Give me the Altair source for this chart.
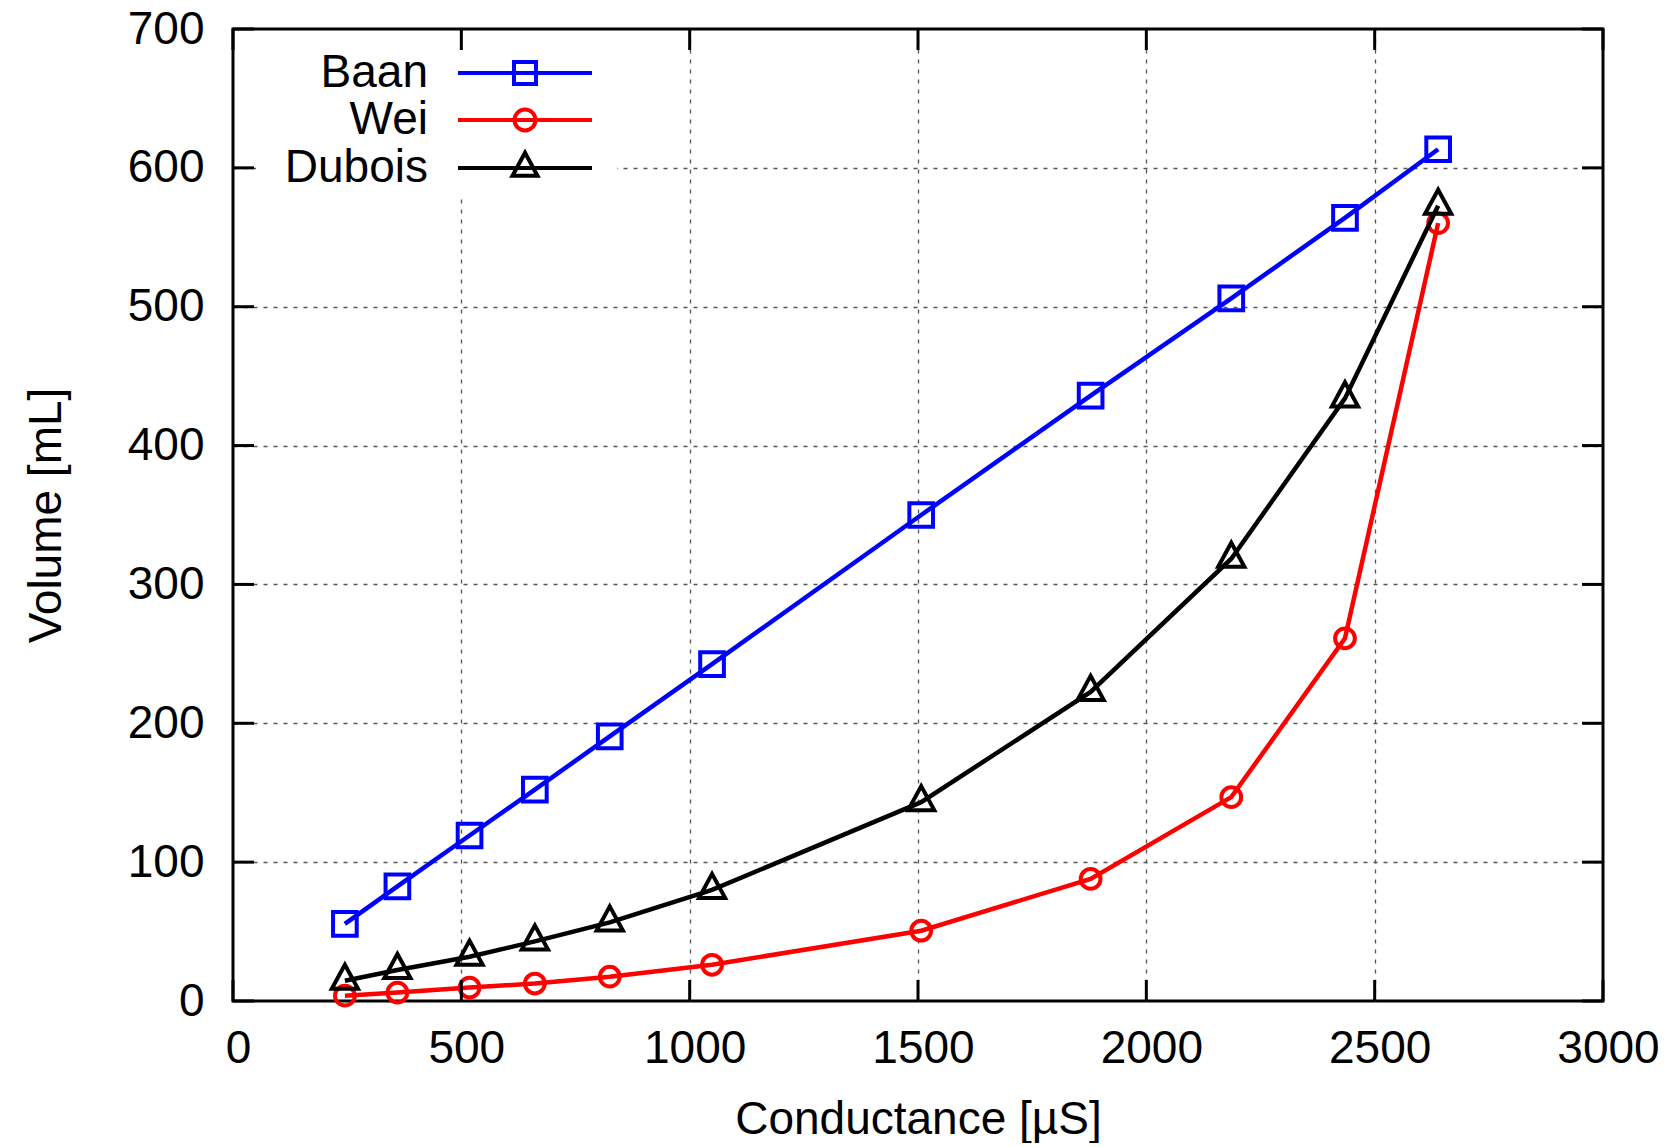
import altair as alt
import pandas as pd

# ---- data ----
conductance = [245, 360, 518, 661, 825, 1049, 1507, 1878, 2186, 2435, 2639]
baan = [55.5, 82.6, 119.2, 152.2, 190.6, 242.6, 350.0, 436.0, 506.0, 564.0, 613.4]
wei = [3.8, 6.1, 9.7, 12.6, 17.5, 26.1, 50.6, 87.9, 146.8, 261.2, 560.2]
dubois = [14.6, 22.3, 31.9, 42.9, 56.6, 80.0, 143.2, 222.6, 318.5, 434.0, 572.7]

series_names = ["Baan", "Wei", "Dubois"]
series_colors = ["#0000ff", "#ff0000", "#000000"]
x_ticks = [0, 500, 1000, 1500, 2000, 2500, 3000]
y_ticks = [0, 100, 200, 300, 400, 500, 600, 700]

# ---- layout / style ----
W, H = 1370, 972
FONT = "Liberation Sans"
FS = 46
TICK = 21

rows = []
for name, vals in zip(series_names, [baan, wei, dubois]):
    for c, v in zip(conductance, vals):
        rows.append({"series": name, "conductance": c, "volume": v})
df = pd.DataFrame(rows)
xt = pd.DataFrame({"conductance": x_ticks})
yt = pd.DataFrame({"volume": y_ticks})

x_scale = alt.Scale(domain=[0, 3000], nice=False, zero=False)
y_scale = alt.Scale(domain=[0, 700], nice=False, zero=False)

x_axis = alt.Axis(
    values=x_ticks, format="d", title="Conductance [µS]",
    domain=False, ticks=False, tickSize=0,
    labelPadding=25, labelFontSize=FS, labelFont=FONT, labelColor="black",
    labelFlush=False, labelOverlap=False, labelOffset=5,
    grid=True, gridColor="#555555", gridDash=[4, 6], gridWidth=1.3,
    gridOpacity={"condition": {"test": "datum.value <= 0 || datum.value >= 3000", "value": 0}, "value": 1},
    titleFont=FONT, titleFontSize=FS, titleFontWeight="normal", titleColor="black",
    titlePadding=26,
)
y_axis = alt.Axis(
    values=y_ticks, format="d", title="Volume [mL]",
    domain=False, ticks=False, tickSize=0,
    labelPadding=29, labelFontSize=FS, labelFont=FONT, labelColor="black",
    labelFlush=False, labelOverlap=False,
    grid=True, gridColor="#555555", gridDash=[4, 6], gridWidth=1.3,
    gridOpacity={"condition": {"test": "datum.value <= 0 || datum.value >= 700", "value": 0}, "value": 1},
    titleFont=FONT, titleFontSize=FS, titleFontWeight="normal", titleColor="black",
    titlePadding=57,
)

X = alt.X("conductance:Q", scale=x_scale, axis=x_axis)
Y = alt.Y("volume:Q", scale=y_scale, axis=y_axis)

marker_shapes = {
    "Baan": ("square", 560),
    "Wei": ("circle", 390),
    "Dubois": ("M0,-1.53L1.25,0.77L-1.25,0.77Z", 440),
}

layers = []
for name, col in zip(series_names, series_colors):
    base = alt.Chart(df).transform_filter(alt.datum.series == name)
    layers.append(base.mark_line(color=col, strokeWidth=4.5).encode(x=X, y=Y))
    shp, sz = marker_shapes[name]
    layers.append(
        base.mark_point(shape=shp, size=sz, filled=False, color=col, strokeWidth=4, opacity=1)
        .encode(x=X, y=Y)
    )

# inward tick marks on all four sides
tick_style = dict(color="black", strokeWidth=3)
layers.append(alt.Chart(xt).mark_rule(**tick_style).encode(x=X, y=alt.value(H), y2=alt.value(H - TICK)))
layers.append(alt.Chart(xt).mark_rule(**tick_style).encode(x=X, y=alt.value(0), y2=alt.value(TICK)))
layers.append(alt.Chart(yt).mark_rule(**tick_style).encode(y=Y, x=alt.value(0), x2=alt.value(TICK)))
layers.append(alt.Chart(yt).mark_rule(**tick_style).encode(y=Y, x=alt.value(W), x2=alt.value(W - TICK)))

# legend: line + marker symbols, labels on the left
ext = "M8.4,0"
line_seg = "M-6.7,0H6.7"
legend_paths = [
    ext + line_seg + "M-1.1,-1.1H1.1V1.1H-1.1Z",
    ext + line_seg + "M-1.05,0A1.05,1.05 0 1,0 1.05,0A1.05,1.05 0 1,0 -1.05,0Z",
    ext + "M0,2.2" + line_seg + "M0,-1.53L1.25,0.77L-1.25,0.77Z",
]
leg = alt.Legend(
    title=None, orient="none", legendX=23, legendY=21, direction="vertical",
    fillColor="white", padding=0,
    symbolOffset=246,
    labelAlign="right", labelOffset={"expr": "-120"}, labelFont=FONT, labelFontSize=FS,
    labelColor="black", labelLimit=400,
    symbolSize=400, symbolStrokeWidth=4, symbolOpacity=1,
    rowPadding=1,
)
legend_layer = (
    alt.Chart(df)
    .transform_filter("false")
    .mark_point(filled=False)
    .encode(
        x=X, y=Y,
        stroke=alt.Stroke("series:N", scale=alt.Scale(domain=series_names, range=series_colors), legend=leg),
        shape=alt.Shape("series:N", scale=alt.Scale(domain=series_names, range=legend_paths), legend=leg),
    )
)
layers.append(legend_layer)

chart = (
    alt.layer(*layers)
    .properties(
        width=W, height=H,
        autosize=alt.AutoSizeParams(type="none"),
        padding={"left": 225, "top": 21, "right": 57, "bottom": 142},
    )
    .configure_view(stroke="black", strokeWidth=3)
)

chart.save("out.html", embed_options={"renderer": "svg", "actions": False})
